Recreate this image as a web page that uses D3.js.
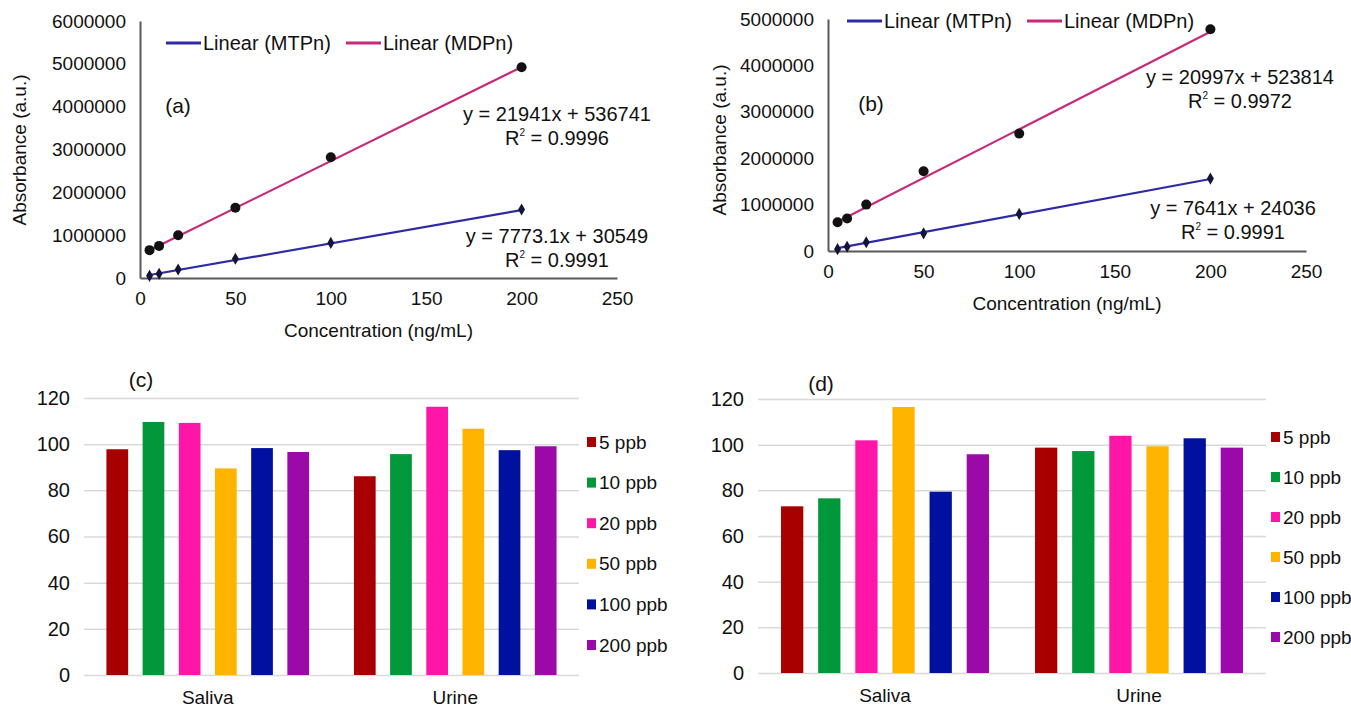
<!DOCTYPE html>
<html>
<head>
<meta charset="utf-8">
<script src="https://cdn.jsdelivr.net/npm/d3@7"></script>
<style>
  body { margin: 0; background: #fff; }
  svg { display: block; font-family: 'Liberation Sans', Arial, sans-serif; }
  .domain { stroke: #595959; stroke-width: 2; }
</style>
</head>
<body>
<div id="chart"></div>
<script>
// calibration data (x = concentration, ng/mL)
const concentrations = [5, 10, 20, 50, 100, 200];

const mtpnA = [50000, 100000, 200000, 450000, 820000, 1600000];
const mdpnA = [650000, 750000, 1000000, 1640000, 2820000, 4920000];
const mtpnB = [40000, 90000, 190000, 380000, 800000, 1560000];
const mdpnB = [620000, 700000, 1000000, 1720000, 2530000, 4780000];

// trendline [slope, intercept] and R² as printed on the chart
const fitA = [[7773.1, 30549], [21941, 536741]];
const fitB = [[7641, 24036], [20997, 523814]];
const r2A = ['0.9991', '0.9996'];
const r2B = ['0.9991', '0.9972'];

const seriesNames = ['MTPn', 'MDPn'];
const xTicks = [0, 50, 100, 150, 200, 250];

// recovery bars
const samples = ['Saliva', 'Urine'];
const levels = ['5 ppb', '10 ppb', '20 ppb', '50 ppb', '100 ppb', '200 ppb'];
const recoveryC = [
  [97.8, 109.6, 109.2, 89.5, 98.3, 96.6],
  [86.1, 95.7, 116.2, 106.7, 97.4, 99.1]
];
const recoveryD = [
  [73.0, 76.5, 101.9, 116.5, 79.4, 95.8],
  [98.7, 97.2, 103.9, 99.3, 102.8, 98.7]
];
const barTicks = [0, 20, 40, 60, 80, 100, 120];

const lineColors = ['#2e2aa6', '#c8287a'];
const barColors = ['#a80000', '#00983a', '#ff15a8', '#ffb400', '#0011a0', '#9b0aa8'];

const svg = d3.select('#chart').append('svg')
  .attr('width', 1351)
  .attr('height', 707);

function scatterPanel(cfg) {
  const g = svg.append('g');

  const x = d3.scaleLinear().domain([0, 250]).range(cfg.xRange);
  const y = d3.scaleLinear().domain([0, cfg.yMax]).range(cfg.yRange);

  g.append('g')
    .attr('transform', `translate(0,${cfg.yRange[0]})`)
    .call(d3.axisBottom(x).tickValues(xTicks).tickSize(0).tickPadding(14))
    .call(a => a.selectAll('text').attr('font-size', 19).attr('fill', '#111').attr('font-family', null));

  g.append('g')
    .attr('transform', `translate(${cfg.xRange[0]},0)`)
    .call(d3.axisLeft(y).ticks(cfg.yMax / 1e6).tickFormat(d3.format('d')).tickSize(0).tickPadding(14))
    .call(a => a.selectAll('text').attr('font-size', 19).attr('fill', '#111').attr('font-family', null));

  // trendlines over the data range
  const line = d3.line().x(d => x(d[0])).y(d => y(d[1]));
  const xr = d3.extent(concentrations);
  cfg.fits.forEach((f, i) => {
    g.append('path')
      .attr('d', line(xr.map(v => [v, f[0] * v + f[1]])))
      .attr('fill', 'none')
      .attr('stroke', lineColors[i])
      .attr('stroke-width', 2.2);
  });

  // MTPn diamonds
  g.append('g').selectAll('path')
    .data(concentrations.map((c, i) => [c, cfg.series[0][i]]))
    .join('path')
    .attr('transform', d => `translate(${x(d[0])},${y(d[1])})`)
    .attr('d', d3.symbol(d3.symbolDiamond, 42))
    .attr('fill', '#14143a');

  // MDPn circles
  g.append('g').selectAll('circle')
    .data(concentrations.map((c, i) => [c, cfg.series[1][i]]))
    .join('circle')
    .attr('cx', d => x(d[0]))
    .attr('cy', d => y(d[1]))
    .attr('r', 5)
    .attr('fill', '#111');

  // legend
  const leg = g.append('g').attr('font-size', 20).attr('fill', '#111');
  seriesNames.forEach((name, i) => {
    const lx = cfg.legend[0] + i * 180;
    leg.append('line')
      .attr('x1', lx).attr('x2', lx + 35)
      .attr('y1', cfg.legend[1]).attr('y2', cfg.legend[1])
      .attr('stroke', lineColors[i]).attr('stroke-width', 3);
    leg.append('text')
      .attr('x', lx + 37).attr('y', cfg.legend[1]).attr('dy', '0.35em')
      .text(`Linear (${name})`);
  });

  // equations
  cfg.fits.forEach((f, i) => {
    const p = cfg.eqPos[i];
    const t = g.append('g').attr('font-size', 20).attr('fill', '#111').attr('text-anchor', 'middle');
    t.append('text').attr('x', p[0]).attr('y', p[1]).attr('dy', '0.35em')
      .text(`y = ${f[0]}x + ${f[1]}`);
    const r = t.append('text').attr('x', p[0]).attr('y', p[1] + 7 + 24);
    r.append('tspan').text('R');
    r.append('tspan').attr('font-size', 10).attr('dy', -9).text('2');
    r.append('tspan').attr('dy', 9).text(` = ${cfg.r2[i]}`);
  });

  g.append('text')
    .attr('x', cfg.tag[0]).attr('y', cfg.tag[1]).attr('dy', '0.35em')
    .attr('text-anchor', 'middle').attr('font-size', 21).attr('fill', '#111')
    .text(cfg.tagText);

  g.append('text')
    .attr('transform', `translate(${cfg.yTitle[0]},${cfg.yTitle[1]}) rotate(-90)`)
    .attr('text-anchor', 'middle').attr('dy', '0.35em')
    .attr('font-size', 19).attr('fill', '#111')
    .text('Absorbance (a.u.)');

  g.append('text')
    .attr('x', (cfg.xRange[0] + cfg.xRange[1]) / 2)
    .attr('y', cfg.yRange[0] + 52).attr('dy', '0.35em')
    .attr('text-anchor', 'middle').attr('font-size', 19).attr('fill', '#111')
    .text('Concentration (ng/mL)');
}

function barPanel(cfg) {
  const g = svg.append('g');

  const x0 = d3.scaleBand().domain(samples).range(cfg.xRange).padding(0);
  const x1 = d3.scaleBand().domain(levels).range([0, x0.bandwidth()])
    .paddingInner(0.4).paddingOuter(0.62);
  const y = d3.scaleLinear().domain([0, 120]).range(cfg.yRange);
  const color = d3.scaleOrdinal().domain(levels).range(barColors);

  g.append('g')
    .attr('transform', `translate(${cfg.xRange[0]},0)`)
    .call(d3.axisLeft(y).tickValues(barTicks)
      .tickSize(-(cfg.xRange[1] - cfg.xRange[0])).tickPadding(14))
    .call(a => a.select('.domain').remove())
    .call(a => a.selectAll('line').attr('stroke', '#d9d9d9').attr('stroke-width', 1.5))
    .call(a => a.selectAll('text').attr('font-size', 20).attr('fill', '#111').attr('font-family', null));

  const groups = g.append('g').selectAll('g')
    .data(cfg.values)
    .join('g')
    .attr('transform', (d, i) => `translate(${x0(samples[i])},0)`);

  groups.selectAll('rect')
    .data(d => d.map((v, j) => ({ level: levels[j], value: v })))
    .join('rect')
    .attr('x', d => x1(d.level))
    .attr('width', x1.bandwidth())
    .attr('y', d => y(d.value))
    .attr('height', d => y(0) - y(d.value))
    .attr('fill', d => color(d.level));

  g.append('g')
    .attr('transform', `translate(0,${cfg.yRange[0]})`)
    .call(d3.axisBottom(x0).tickSize(0).tickPadding(16))
    .call(a => a.select('.domain').remove())
    .call(a => a.selectAll('text').attr('font-size', 19).attr('fill', '#111').attr('font-family', null));

  const leg = g.append('g').selectAll('g')
    .data(levels)
    .join('g')
    .attr('transform', (d, i) => `translate(${cfg.legend[0]},${cfg.legend[1] + i * cfg.legend[2]})`);
  leg.append('rect')
    .attr('x', 0).attr('y', -5).attr('width', 9).attr('height', 10)
    .attr('fill', d => color(d));
  leg.append('text')
    .attr('x', 12).attr('dy', '0.35em')
    .attr('font-size', 19).attr('fill', '#111')
    .text(d => d);

  g.append('text')
    .attr('x', cfg.tag[0]).attr('y', cfg.tag[1]).attr('dy', '0.35em')
    .attr('text-anchor', 'middle').attr('font-size', 21).attr('fill', '#111')
    .text(cfg.tagText);
}

scatterPanel({
  xRange: [140, 617], yRange: [278, 21], yMax: 6e6,
  series: [mtpnA, mdpnA], fits: fitA, r2: r2A,
  legend: [166, 43], eqPos: [[557, 236], [557, 114]],
  tag: [178, 106], tagText: '(a)', yTitle: [19, 150]
});

scatterPanel({
  xRange: [828, 1306], yRange: [251, 19], yMax: 5e6,
  series: [mtpnB, mdpnB], fits: fitB, r2: r2B,
  legend: [847, 21], eqPos: [[1233, 208], [1240, 77]],
  tag: [871, 104], tagText: '(b)', yTitle: [719, 140]
});

barPanel({
  xRange: [84, 579], yRange: [675, 398], values: recoveryC,
  legend: [587, 442, 40.6], tag: [141, 380], tagText: '(c)'
});

barPanel({
  xRange: [758, 1266], yRange: [673, 399], values: recoveryD,
  legend: [1271, 437, 40], tag: [821, 384], tagText: '(d)'
});
</script>
</body>
</html>
